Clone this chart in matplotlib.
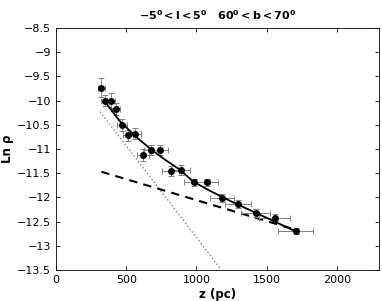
import matplotlib
matplotlib.use("Agg")
import matplotlib.pyplot as plt
import numpy as np

# data points
z = [322, 351, 389, 425, 470, 512, 562, 619, 676, 742, 816, 892, 984, 1075, 1184, 1295, 1421, 1556, 1708]
ln_rho = [-9.73, -10.00, -10.00, -10.17, -10.51, -10.72, -10.68, -11.12, -11.02, -11.02,
          -11.45, -11.44, -11.69, -11.69, -12.02, -12.13, -12.32, -12.42, -12.70]
z_err = [25, 28, 30, 32, 35, 38, 42, 46, 50, 55, 60, 65, 72, 78, 86, 94, 103, 112, 124]
ln_err = [0.2, 0.12, 0.15, 0.12, 0.12, 0.12, 0.12, 0.12, 0.1, 0.1, 0.1, 0.1, 0.08, 0.08,
          0.08, 0.08, 0.08, 0.07, 0.06]

# total fit (solid)
fit_z = [340, 455, 570, 681, 780, 883, 977, 1100, 1238, 1416, 1713]
fit_ln = [-9.99, -10.43, -10.75, -11.02, -11.23, -11.43, -11.675, -11.87, -12.07, -12.31, -12.71]

# thick disk component (dashed)
thick_z = [322, 1708]
thick_ln = [-11.47, -12.67]

# thin disk component (dotted)
thin_z = [313, 1167]
thin_ln = [-10.23, -13.46]

fig = plt.figure(figsize=(3.82, 3.01), dpi=100)
ax = fig.add_axes([0.147, 0.103, 0.845, 0.804])

ax.plot(thin_z, thin_ln, linestyle=':', color='#808080', linewidth=1.0)
ax.plot(thick_z, thick_ln, linestyle=(0, (4, 3)), color='black', linewidth=1.5)
ax.errorbar(z, ln_rho, xerr=z_err, yerr=ln_err, fmt='none', ecolor='#808080',
            elinewidth=0.7, capsize=2.5, capthick=0.7)
ax.plot(fit_z, fit_ln, '-', color='black', linewidth=1.3)
ax.plot(z, ln_rho, 'o', color='black', markersize=4)

ax.set_xlim(0, 2300)
ax.set_ylim(-13.5, -8.5)
ax.set_xticks([0, 500, 1000, 1500, 2000])
ax.set_yticks(np.arange(-13.5, -8.49, 0.5))
ax.set_yticklabels(['\u221213.5', '\u221213', '\u221212.5', '\u221212', '\u221211.5',
                    '\u221211', '\u221210.5', '\u221210', '\u22129.5', '\u22129', '\u22128.5'])
ax.tick_params(direction='in', top=True, right=True, labelsize=8, length=3, width=0.6)
for s in ax.spines.values():
    s.set_linewidth(0.6)

ax.set_xlabel('z (pc)', fontsize=8.5, fontweight='bold', labelpad=2)
ax.set_ylabel('Ln \u03c1', fontsize=8.5, fontweight='bold', labelpad=2)
ax.set_title(r'$\mathbf{-5^o < l < 5^o \quad 60^o < b < 70^o}$', fontsize=8, pad=6)

fig.savefig('out.png', dpi=100)
